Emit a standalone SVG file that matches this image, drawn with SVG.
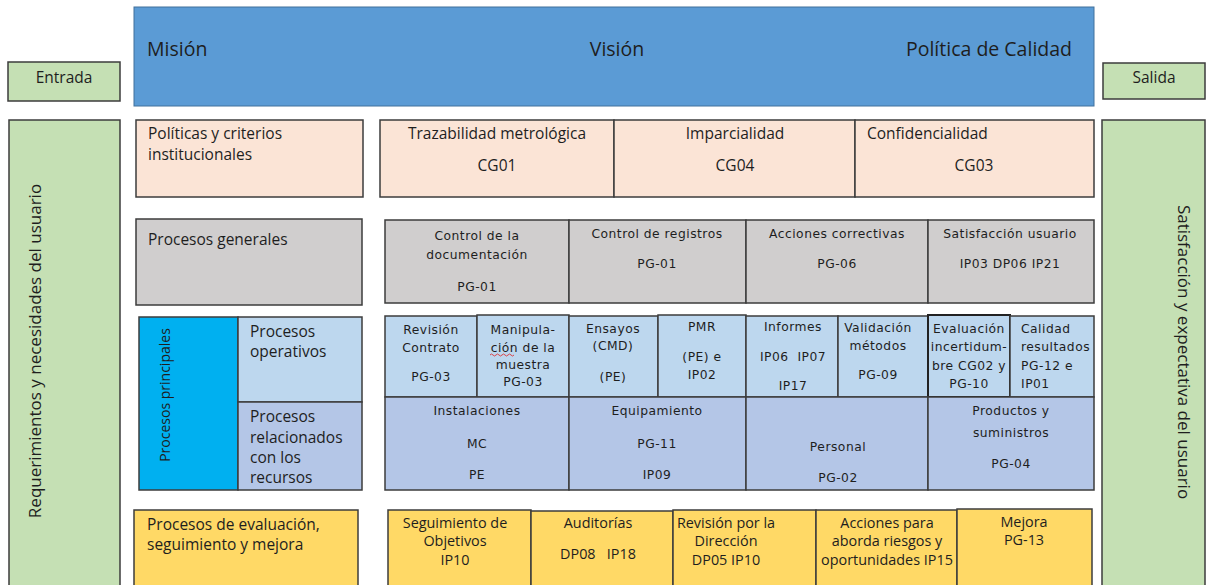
<svg xmlns="http://www.w3.org/2000/svg" width="1207" height="585" viewBox="0 0 1207 585">
<style>
.b{stroke:#3c3c3c;stroke-width:1.5}
.bl{fill:#5b9bd5;stroke:#41719c;stroke-width:1}
.pe{fill:#fbe4d6}
.gr{fill:#d0cece}
.op{fill:#bdd7ee}
.rs{fill:#b4c6e7}
.cy{fill:#00b0f0}
.ye{fill:#ffd966}
.gn{fill:#c5e0b4}
text{fill:#1e1e1e}
.h{font-family:"Open Sans","Noto Sans",sans-serif;font-size:19.5px}
.t{font-family:"Open Sans","Noto Sans",sans-serif;font-size:15.5px}
.v{font-family:"Open Sans","Noto Sans",sans-serif;font-size:17px}
.p{font-family:"Open Sans","Noto Sans",sans-serif;font-size:14px}
.c{font-family:"DejaVu Sans","Noto Sans",sans-serif;font-size:12.3px;letter-spacing:0.5px}
.s{font-family:"Open Sans","Noto Sans",sans-serif;font-size:14.4px}
.m{text-anchor:middle}
</style>
<rect width="1207" height="585" fill="#ffffff"/>

<g id="header">
<rect class="bl" x="134" y="7" width="960" height="99"/>
<text class="h" x="147" y="56">Misión</text>
<text class="h m" x="617" y="56">Visión</text>
<text class="h" x="1072" y="56" text-anchor="end">Política de Calidad</text>
</g>

<g id="entrada">
<rect class="gn b" x="8" y="62" width="112" height="39"/>
<text class="t m" x="64" y="83">Entrada</text>
</g>
<g id="salida">
<rect class="gn b" x="1103" y="63" width="102" height="36"/>
<text class="t m" x="1154" y="83">Salida</text>
</g>

<g id="requerimientos">
<rect class="gn b" x="9" y="120" width="111" height="470"/>
<text class="v m" transform="translate(41 351) rotate(-90)">Requerimientos y necesidades del usuario</text>
</g>
<g id="satisfaccion">
<rect class="gn b" x="1102" y="120" width="103" height="470"/>
<text class="v m" transform="translate(1178 352) rotate(90)">Satisfacción y expectativa del usuario</text>
</g>

<g id="politicas">
<rect class="pe b" x="136" y="120" width="227" height="77"/>
<text class="t" x="148" y="139">Políticas y criterios</text>
<text class="t" x="148" y="160">institucionales</text>
</g>
<g id="trazabilidad">
<rect class="pe b" x="380" y="120" width="234" height="77"/>
<text class="t m" x="497" y="139">Trazabilidad metrológica</text>
<text class="t m" x="497" y="171">CG01</text>
</g>
<g id="imparcialidad">
<rect class="pe b" x="614" y="120" width="241" height="77"/>
<text class="t m" x="735" y="139">Imparcialidad</text>
<text class="t m" x="735" y="171">CG04</text>
</g>
<g id="confidencialidad">
<rect class="pe b" x="855" y="120" width="239" height="77"/>
<text class="t" x="867" y="139">Confidencialidad</text>
<text class="t m" x="974" y="171">CG03</text>
</g>

<g id="procesos-generales">
<rect class="gr b" x="136" y="219" width="226" height="86"/>
<text class="t" x="148" y="245">Procesos generales</text>
</g>
<g id="control-documentacion">
<rect class="gr b" x="385" y="220" width="184" height="83"/>
<text class="c m" x="477" y="240">Control de la</text>
<text class="c m" x="477" y="259">documentación</text>
<text class="c m" x="477" y="291">PG-01</text>
</g>
<g id="control-registros">
<rect class="gr b" x="569" y="220" width="177" height="83"/>
<text class="c m" x="657" y="238">Control de registros</text>
<text class="c m" x="657" y="268">PG-01</text>
</g>
<g id="acciones-correctivas">
<rect class="gr b" x="746" y="220" width="182" height="83"/>
<text class="c m" x="837" y="238">Acciones correctivas</text>
<text class="c m" x="837" y="268">PG-06</text>
</g>
<g id="satisfaccion-usuario">
<rect class="gr b" x="928" y="220" width="166" height="83"/>
<text class="c m" x="1010" y="238">Satisfacción usuario</text>
<text class="c m" x="1010" y="268">IP03 DP06 IP21</text>
</g>

<g id="procesos-principales">
<rect class="cy b" x="139" y="317" width="99" height="173"/>
<text class="p m" transform="translate(170 395) rotate(-90)">Procesos principales</text>
</g>
<g id="procesos-operativos">
<rect class="op b" x="238" y="317" width="124" height="85"/>
<text class="t" x="250" y="337">Procesos</text>
<text class="t" x="250" y="357">operativos</text>
</g>
<g id="procesos-recursos">
<rect class="rs b" x="238" y="402" width="124" height="88"/>
<text class="t" x="250" y="422">Procesos</text>
<text class="t" x="250" y="443">relacionados</text>
<text class="t" x="250" y="463">con los</text>
<text class="t" x="250" y="483">recursos</text>
</g>

<g id="revision-contrato">
<rect class="op b" x="385" y="316" width="92" height="81"/>
<text class="c m" x="431" y="334">Revisión</text>
<text class="c m" x="431" y="352">Contrato</text>
<text class="c m" x="431" y="381">PG-03</text>
</g>
<g id="manipulacion">
<rect class="op b" x="477" y="315" width="92" height="82"/>
<text class="c m" x="523" y="334">Manipula-</text>
<text class="c m" x="523" y="352">ción de la</text>
<text class="c m" x="523" y="369">muestra</text>
<text class="c m" x="523" y="386">PG-03</text>
<path d="M490 355 q1.5 -2 3 0 t3 0 t3 0 t3 0 t3 0 t3 0 t3 0 t3 0" fill="none" stroke="#e02020" stroke-width="0.8"/>
</g>
<g id="ensayos">
<rect class="op b" x="569" y="316" width="89" height="81"/>
<text class="c m" x="613" y="333">Ensayos</text>
<text class="c m" x="613" y="350">(CMD)</text>
<text class="c m" x="613" y="381">(PE)</text>
</g>
<g id="pmr">
<rect class="op b" x="658" y="315" width="88" height="82"/>
<text class="c m" x="702" y="331">PMR</text>
<text class="c m" x="702" y="361">(PE) e</text>
<text class="c m" x="702" y="379">IP02</text>
</g>
<g id="informes">
<rect class="op b" x="746" y="316" width="92" height="81"/>
<text class="c m" x="793" y="331">Informes</text>
<text class="c m" x="793" y="361" xml:space="preserve">IP06  IP07</text>
<text class="c m" x="793" y="390">IP17</text>
</g>
<g id="validacion">
<rect class="op b" x="838" y="316" width="90" height="81"/>
<text class="c m" x="878" y="332">Validación</text>
<text class="c m" x="878" y="350">métodos</text>
<text class="c m" x="878" y="379">PG-09</text>
</g>
<g id="evaluacion-incertidumbre">
<rect class="op" x="928" y="315" width="82" height="82" stroke="#222" stroke-width="2"/>
<text class="c m" x="969" y="333">Evaluación</text>
<text class="c m" x="969" y="351">incertidum-</text>
<text class="c m" x="969" y="370">bre CG02 y</text>
<text class="c m" x="969" y="388">PG-10</text>
</g>
<g id="calidad-resultados">
<rect class="op b" x="1010" y="316" width="84" height="81"/>
<text class="c" x="1021" y="333">Calidad</text>
<text class="c" x="1021" y="351">resultados</text>
<text class="c" x="1021" y="370">PG-12 e</text>
<text class="c" x="1021" y="388">IP01</text>
</g>

<g id="instalaciones">
<rect class="rs b" x="385" y="397" width="184" height="93"/>
<text class="c m" x="477" y="415">Instalaciones</text>
<text class="c m" x="477" y="448">MC</text>
<text class="c m" x="477" y="479">PE</text>
</g>
<g id="equipamiento">
<rect class="rs b" x="569" y="397" width="177" height="93"/>
<text class="c m" x="657" y="415">Equipamiento</text>
<text class="c m" x="657" y="448">PG-11</text>
<text class="c m" x="657" y="479">IP09</text>
</g>
<g id="personal">
<rect class="rs b" x="746" y="397" width="182" height="93"/>
<text class="c m" x="838" y="451">Personal</text>
<text class="c m" x="838" y="482">PG-02</text>
</g>
<g id="productos">
<rect class="rs b" x="928" y="397" width="166" height="93"/>
<text class="c m" x="1011" y="415">Productos y</text>
<text class="c m" x="1011" y="437">suministros</text>
<text class="c m" x="1011" y="468">PG-04</text>
</g>

<g id="procesos-evaluacion">
<rect class="ye b" x="134" y="510" width="224" height="80"/>
<text class="t" x="147" y="530">Procesos de evaluación,</text>
<text class="t" x="147" y="550">seguimiento y mejora</text>
</g>
<g id="seguimiento-objetivos">
<rect class="ye b" x="388" y="510" width="143" height="80"/>
<text class="s m" x="455" y="528">Seguimiento de</text>
<text class="s m" x="455" y="546">Objetivos</text>
<text class="s m" x="455" y="565">IP10</text>
</g>
<g id="auditorias">
<rect class="ye b" x="531" y="511" width="142" height="79"/>
<text class="s m" x="598" y="528">Auditorías</text>
<text class="s m" x="598" y="559" xml:space="preserve">DP08   IP18</text>
</g>
<g id="revision-direccion">
<rect class="ye b" x="673" y="510" width="143" height="80"/>
<text class="s m" x="726" y="528">Revisión por la</text>
<text class="s m" x="726" y="546">Dirección</text>
<text class="s m" x="726" y="565">DP05 IP10</text>
</g>
<g id="acciones-riesgos">
<rect class="ye b" x="816" y="510" width="141" height="80"/>
<text class="s m" x="887" y="528">Acciones para</text>
<text class="s m" x="887" y="546">aborda riesgos y</text>
<text class="s m" x="887" y="565">oportunidades IP15</text>
</g>
<g id="mejora">
<rect class="ye b" x="957" y="509" width="135" height="81"/>
<text class="s m" x="1024" y="527">Mejora</text>
<text class="s m" x="1024" y="545">PG-13</text>
</g>

<g id="connectors"/>
</svg>
